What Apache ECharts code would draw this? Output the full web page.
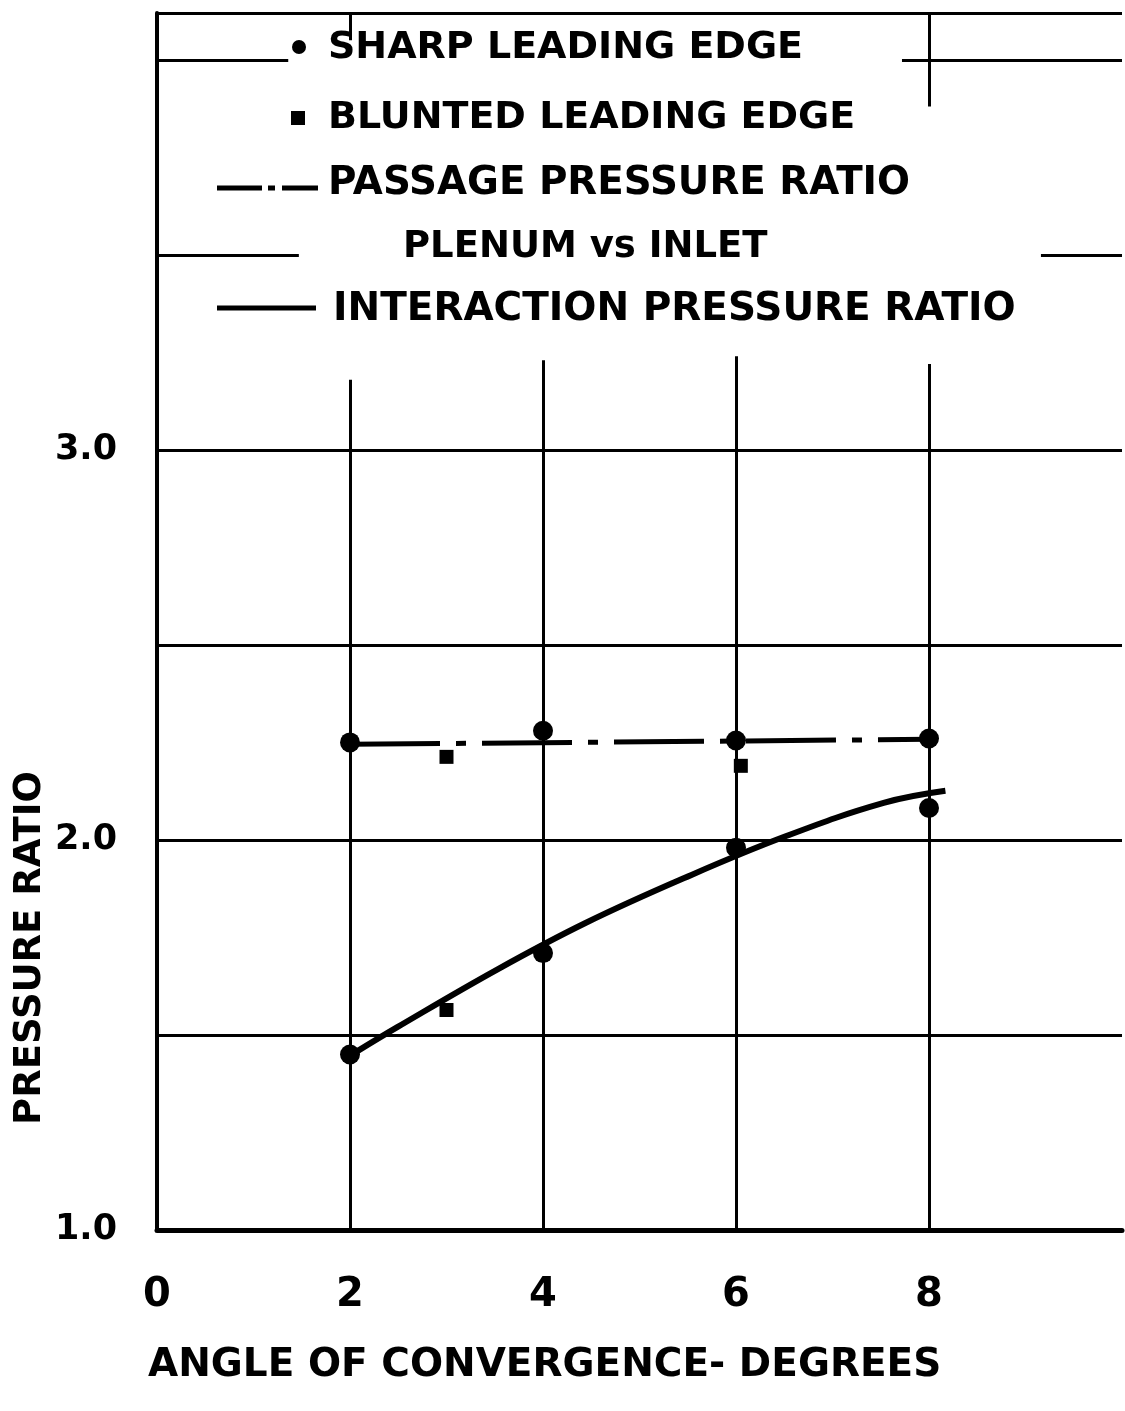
<!DOCTYPE html>
<html><head><meta charset="utf-8">
<script src="https://cdn.jsdelivr.net/npm/echarts@6/dist/echarts.min.js"></script>
<style>html,body{margin:0;padding:0;background:#fff}#c{width:1125px;height:1411px}</style>
</head><body><div id="c"></div>
<script>
const FONT = '"DejaVu Sans", sans-serif';
// Data
const sharpX = [2, 4, 6, 8, 2, 4, 6, 8];
const sharpY = [2.25, 2.28, 2.255, 2.26, 1.45, 1.71, 1.98, 2.082];
const bluntX = [3, 6.05, 3];
const bluntY = [2.213, 2.19, 1.564];
const passageX = [2, 8];
const passageY = [2.245, 2.258];
const interX = [2.06, 2.49, 3.52, 4.44, 5.47, 6.50, 7.53, 8.17];
const interY = [1.456, 1.52, 1.667, 1.787, 1.903, 2.008, 2.095, 2.126];
const yTickLabels = [1, 2, 3];
const xTickLabels = [0, 2, 4, 6, 8];
const legendTexts = ['SHARP LEADING EDGE', 'BLUNTED LEADING EDGE', 'PASSAGE PRESSURE RATIO', 'PLENUM vs INLET', 'INTERACTION PRESSURE RATIO'];
const xName = 'ANGLE OF CONVERGENCE- DEGREES';
const yName = 'PRESSURE RATIO';
// Grid lines in data units: [y, xFrom, xTo] and [x, yFrom, yTo]
const Y_MIN = 1, Y_MAX = 4.12, X_MIN = 0, X_MAX = 10;
const hGrid = [[1.5, 0, 10], [2.0, 0, 10], [2.5, 0, 10], [3.0, 0, 10], [3.5, 0, 1.47], [3.5, 9.16, 10], [4.0, 0, 1.36], [4.0, 7.72, 10], [Y_MAX, 0, 10]];
const vGrid = [[2, 1, 3.18], [2, 4.05, Y_MAX], [4, 1, 3.23], [6, 1, 3.24], [8, 1, 3.22], [8, 3.88, Y_MAX]];

const zip = (a, b) => a.map((v, i) => [v, b[i]]);
const gridLines = hGrid.map(h => ({coords: [[h[1], h[0]], [h[2], h[0]]]}))
  .concat(vGrid.map(v => ({coords: [[v[0], v[1]], [v[0], v[2]]]})));

const chart = echarts.init(document.getElementById('c'));
const txt = (s, x, y, size, extra) => Object.assign({
  type: 'text', x: x, y: y,
  style: {text: s, font: 'bold ' + size + 'px ' + FONT, fill: '#000', align: 'left', verticalAlign: 'middle'}
}, extra || {});

chart.setOption({
  animation: false,
  backgroundColor: '#fff',
  grid: {left: 157, top: 13, width: 977, height: 1217, containLabel: false},
  xAxis: {
    type: 'value', min: X_MIN, max: X_MAX, interval: 2,
    axisLine: {show: true, lineStyle: {color: '#000', width: 5}},
    axisTick: {show: false}, splitLine: {show: false},
    axisLabel: {
      margin: 46, color: '#000', fontFamily: FONT, fontWeight: 'bold', fontSize: 40,
      formatter: v => xTickLabels.indexOf(v) >= 0 ? String(v) : ''
    }
  },
  yAxis: {
    type: 'value', min: Y_MIN, max: Y_MAX, interval: 0.5,
    axisLine: {show: true, lineStyle: {color: '#000', width: 4}},
    axisTick: {show: false}, splitLine: {show: false},
    axisLabel: {
      margin: 40, color: '#000', fontFamily: FONT, fontWeight: 'bold', fontSize: 35,
      formatter: v => yTickLabels.indexOf(v) >= 0 ? v.toFixed(1) : ''
    }
  },
  series: [
    {type: 'lines', coordinateSystem: 'cartesian2d', z: 1, silent: true,
     lineStyle: {color: '#000', width: 3, opacity: 1}, data: gridLines},
    {type: 'line', name: legendTexts[2], data: zip(passageX, passageY), showSymbol: false, z: 3,
     lineStyle: {color: '#000', width: 5, type: [90, 16, 10, 16]}},
    {type: 'line', name: legendTexts[4], data: zip(interX, interY), smooth: 0.4, showSymbol: false, z: 3,
     lineStyle: {color: '#000', width: 6}},
    {type: 'scatter', name: legendTexts[0], data: zip(sharpX, sharpY), symbol: 'circle', symbolSize: 20, z: 4,
     itemStyle: {color: '#000', opacity: 1}},
    {type: 'scatter', name: legendTexts[1], data: zip(bluntX, bluntY), symbol: 'rect', symbolSize: 14, z: 4,
     itemStyle: {color: '#000', opacity: 1}}
  ],
  graphic: [
    {type: 'circle', shape: {cx: 299, cy: 47, r: 7}, style: {fill: '#000'}},
    txt(legendTexts[0], 328, 48, 38),
    {type: 'rect', shape: {x: 291, y: 111, width: 14, height: 14}, style: {fill: '#000'}},
    txt(legendTexts[1], 328, 118, 38),
    {type: 'line', shape: {x1: 217, y1: 188, x2: 262, y2: 188}, style: {stroke: '#000', lineWidth: 5}},
    {type: 'line', shape: {x1: 268, y1: 188, x2: 275, y2: 188}, style: {stroke: '#000', lineWidth: 5}},
    {type: 'line', shape: {x1: 282, y1: 188, x2: 318, y2: 188}, style: {stroke: '#000', lineWidth: 5}},
    txt(legendTexts[2], 328, 184, 38.8),
    txt(legendTexts[3], 403, 247, 37),
    {type: 'line', shape: {x1: 217, y1: 308, x2: 316, y2: 308}, style: {stroke: '#000', lineWidth: 5}},
    txt(legendTexts[4], 333, 310, 39),
    txt(xName, 148, 1366, 39),
    {type: 'text', x: 30, y: 948, rotation: Math.PI / 2,
     style: {text: yName, font: 'bold 37px ' + FONT, fill: '#000', align: 'center', verticalAlign: 'middle'}}
  ]
});
</script>
</body></html>
